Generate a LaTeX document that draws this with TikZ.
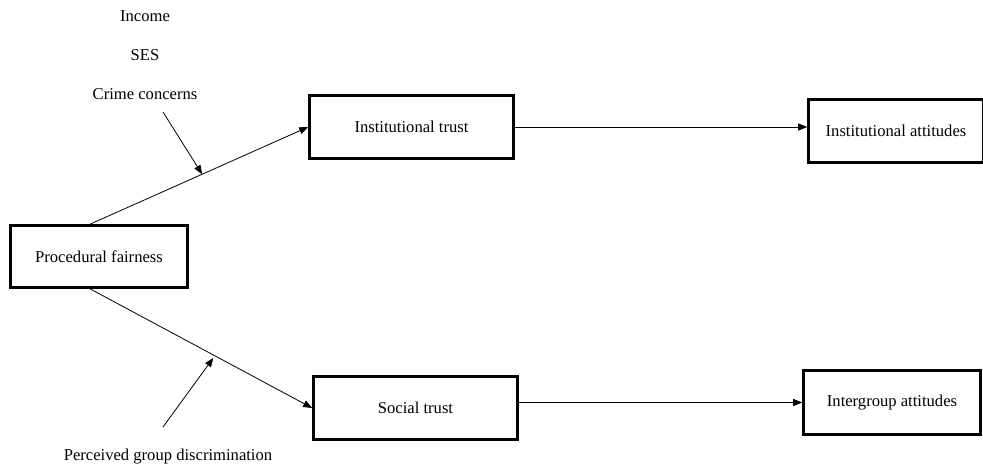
\documentclass[tikz,border=0pt]{standalone}
\usepackage{fontspec}
\setmainfont{Liberation Serif}
\usetikzlibrary{arrows.meta,calc}
\begin{document}
\begin{tikzpicture}[x=1pt,y=-1pt,
  every node/.style={font=\fontsize{16.6}{20}\selectfont},
  box/.style={draw,line width=2.6pt,rectangle,inner sep=0pt},
  lbl/.style={inner sep=0pt},
  conn/.style={line width=0.8pt,-{Triangle[length=9pt,width=7pt]}}]
\useasboundingbox (0,0) rectangle (983,468);
\node[box,minimum width=177pt,minimum height=62pt] (pf) at (99,256.5) {Procedural fairness};
\node[box,minimum width=204pt,minimum height=63pt] (it) at (411.5,127) {Institutional trust};
\node[box,minimum width=175pt,minimum height=63pt] (ia) at (896,131) {Institutional attitudes};
\node[box,minimum width=204pt,minimum height=63pt] (st) at (415.5,408) {Social trust};
\node[box,minimum width=177pt,minimum height=64pt] (ig) at (892,402.5) {Intergroup attitudes};
\node[lbl] (inc) at (145,16) {Income};
\node[lbl] (ses) at (145,55) {SES};
\node[lbl] (cc) at (145,94) {Crime concerns};
\node[lbl] (pgd) at (168,457) {Perceived group discrimination};
\coordinate (pfn) at ([xshift=-9pt]pf.north);
\coordinate (pfs) at ([xshift=-9pt]pf.south);
\coordinate (m1) at ($(pfn)!0.514!(it.west)$);
\coordinate (m2) at ($(pfs)!0.555!(st.west)$);
\coordinate (ccs) at (163,112);
\coordinate (pgdn) at (163,427);
\draw[conn] (pfn) -- (it.west);
\draw[conn] (pfs) -- (st.west);
\draw[conn] (it.east) -- (it.east -| ia.west);
\draw[conn] (st.east |- ig.west) -- (ig.west);
\draw[conn] (ccs) -- (m1);
\draw[conn] (pgdn) -- ($(m2)+(0,3)$);
\end{tikzpicture}
\end{document}
